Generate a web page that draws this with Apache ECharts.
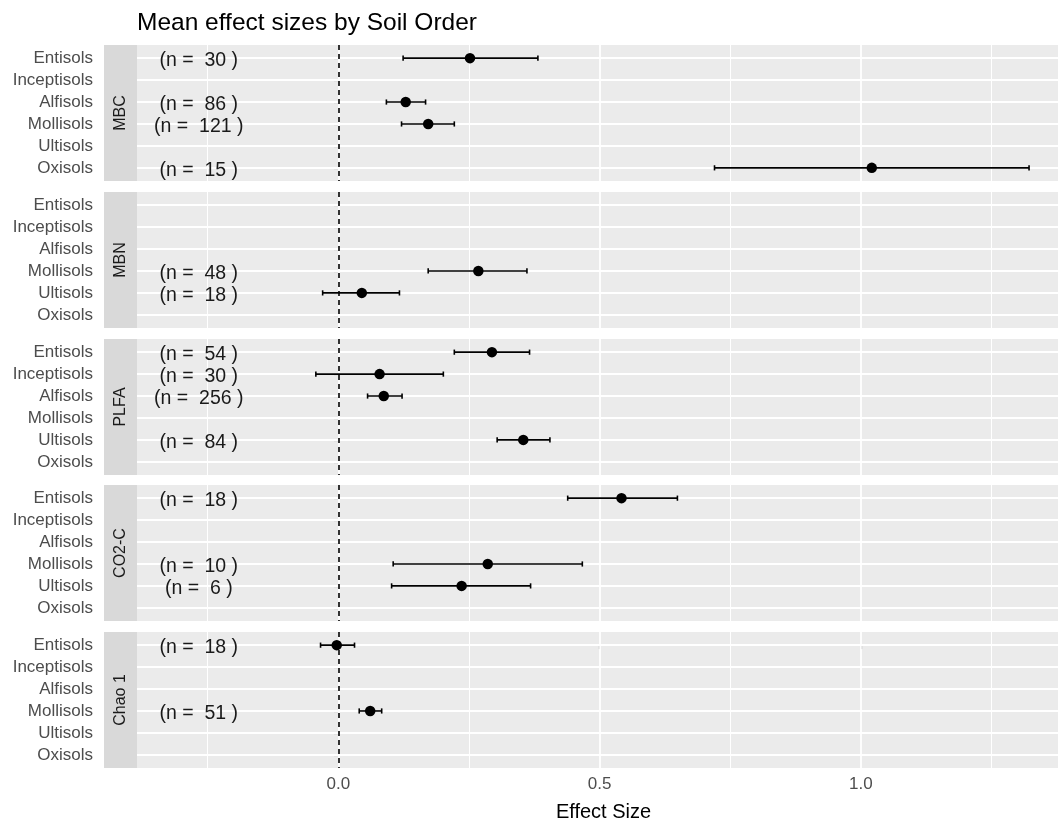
<!DOCTYPE html>
<html><head><meta charset="utf-8">
<script src="https://cdn.jsdelivr.net/npm/echarts@6/dist/echarts.min.js"></script>
<style>html,body{margin:0;padding:0;background:#fff}#chart{width:1059px;height:825px}</style>
</head><body><div id="chart"></div>
<script>
// ---------- data ----------
const soilOrders = ['Entisols', 'Inceptisols', 'Alfisols', 'Mollisols', 'Ultisols', 'Oxisols'];
const panelNames = ['MBC', 'MBN', 'PLFA', 'CO2-C', 'Chao 1'];
const xTicks = [0, 0.5, 1.0];
const xTickLabels = ['0.0', '0.5', '1.0'];
const xMinorGrid = [-0.25, 0.25, 0.75, 1.25];
const refLineX = 0;
const nLabelX = -0.267;

const mbcMean = [0.252, null, 0.129, 0.172, null, 1.021];
const mbcLow  = [0.124, null, 0.092, 0.121, null, 0.720];
const mbcHigh = [0.382, null, 0.167, 0.222, null, 1.322];
const mbcN    = [30, null, 86, 121, null, 15];

const mbnMean = [null, null, null, 0.268, 0.045, null];
const mbnLow  = [null, null, null, 0.172, -0.030, null];
const mbnHigh = [null, null, null, 0.361, 0.117, null];
const mbnN    = [null, null, null, 48, 18, null];

const plfaMean = [0.294, 0.079, 0.087, null, 0.354, null];
const plfaLow  = [0.222, -0.043, 0.056, null, 0.304, null];
const plfaHigh = [0.366, 0.201, 0.122, null, 0.405, null];
const plfaN    = [54, 30, 256, null, 84, null];

const co2Mean = [0.542, null, null, 0.286, 0.236, null];
const co2Low  = [0.439, null, null, 0.105, 0.102, null];
const co2High = [0.649, null, null, 0.467, 0.368, null];
const co2N    = [18, null, null, 10, 6, null];

const chaoMean = [-0.003, null, null, 0.061, null, null];
const chaoLow  = [-0.034, null, null, 0.040, null, null];
const chaoHigh = [0.031, null, null, 0.083, null, null];
const chaoN    = [18, null, null, 51, null, null];

// ---------- layout ----------
const FONT = 'Liberation Sans, Arial, Helvetica, sans-serif';
const GRID_LEFT = 137, GRID_RIGHT = 1, TOP0 = 45, STEP = 146.75, PANEL_H = 136, STRIP_W = 33;
const X_MIN = -0.3853, X_MAX = 1.3774;
const Y_MIN = -0.6, Y_MAX = 5.6;
const CAP = 2.6;

const panelData = [
  [mbcMean, mbcLow, mbcHigh, mbcN],
  [mbnMean, mbnLow, mbnHigh, mbnN],
  [plfaMean, plfaLow, plfaHigh, plfaN],
  [co2Mean, co2Low, co2High, co2N],
  [chaoMean, chaoLow, chaoHigh, chaoN]
];
const catIdx = soilOrders.map((_, i) => i);

const grids = [], xAxes = [], yAxes = [], series = [], graphics = [];
panelNames.forEach((name, p) => {
  const top = Math.round(TOP0 + p * STEP);
  const last = p === panelNames.length - 1;
  grids.push({left: GRID_LEFT, right: GRID_RIGHT, top: top, height: PANEL_H,
    show: true, backgroundColor: '#EBEBEB', borderWidth: 0, containLabel: false});
  xAxes.push({
    gridIndex: p, type: 'value', min: X_MIN, max: X_MAX,
    splitLine: {show: false}, axisLine: {show: false},
    axisTick: last ? {show: true, customValues: xTicks, length: 4, lineStyle: {color: '#333333', width: 1.1}} : {show: false},
    axisLabel: last ? {show: true, customValues: xTicks, margin: 8, fontSize: 17, color: '#4D4D4D', fontFamily: FONT,
      formatter: v => { const k = xTicks.findIndex(t => Math.abs(t - v) < 1e-9); return k >= 0 ? xTickLabels[k] : ''; }} : {show: false},
    name: last ? 'Effect Size' : '', nameLocation: 'middle', nameGap: 34,
    nameTextStyle: {fontSize: 20, color: '#000000', fontFamily: FONT, padding: [0, 0, 0, 12]}
  });
  yAxes.push({
    gridIndex: p, type: 'value', inverse: true, min: Y_MIN, max: Y_MAX, offset: 34,
    axisLine: {show: false}, splitLine: {show: false},
    axisTick: {show: true, customValues: catIdx, length: 4.5, lineStyle: {color: '#333333', width: 1.1}},
    axisLabel: {show: true, customValues: catIdx, margin: 10, fontSize: 17, color: '#4D4D4D', fontFamily: FONT,
      formatter: v => soilOrders[Math.round(v)]}
  });

  // gridlines
  const gl = [];
  xTicks.forEach(v => gl.push({xAxis: v, lineStyle: {width: 1.8}}));
  xMinorGrid.forEach(v => gl.push({xAxis: v, lineStyle: {width: 1.1}}));
  catIdx.forEach(v => gl.push({yAxis: v, lineStyle: {width: 1.8}}));
  series.push({type: 'line', xAxisIndex: p, yAxisIndex: p, data: [], z: 1, silent: true,
    markLine: {z: 1, silent: true, symbol: ['none', 'none'], animation: false, label: {show: false},
      lineStyle: {color: '#FFFFFF', type: 'solid'}, emphasis: {disabled: true}, data: gl}});
  // reference dashed line
  series.push({type: 'line', xAxisIndex: p, yAxisIndex: p, data: [], z: 2, silent: true,
    markLine: {z: 2, silent: true, symbol: ['none', 'none'], animation: false, label: {show: false},
      lineStyle: {color: '#000000', type: [5, 4], width: 1.6}, emphasis: {disabled: true},
      data: [{xAxis: refLineX}]}});

  const [mean, low, high, n] = panelData[p];
  const ebData = [], ptData = [], txtData = [];
  catIdx.forEach(i => {
    if (mean[i] !== null) {
      ebData.push([low[i], high[i], i]);
      ptData.push([mean[i], i]);
    }
    if (n[i] !== null) txtData.push([nLabelX, i, n[i]]);
  });
  series.push({type: 'custom', xAxisIndex: p, yAxisIndex: p, z: 3, silent: true, animation: false,
    encode: {x: [0, 1], y: 2}, data: ebData,
    renderItem: (params, api) => {
      const y = api.value(2);
      const a = api.coord([api.value(0), y]);
      const b = api.coord([api.value(1), y]);
      const st = {stroke: '#000000', lineWidth: 1.6};
      return {type: 'group', children: [
        {type: 'line', shape: {x1: a[0], y1: a[1], x2: b[0], y2: b[1]}, style: st},
        {type: 'line', shape: {x1: a[0], y1: a[1] - CAP, x2: a[0], y2: a[1] + CAP}, style: st},
        {type: 'line', shape: {x1: b[0], y1: b[1] - CAP, x2: b[0], y2: b[1] + CAP}, style: st}
      ]};
    }});
  series.push({type: 'scatter', xAxisIndex: p, yAxisIndex: p, z: 4, silent: true, animation: false,
    symbol: 'circle', symbolSize: 10.5, itemStyle: {color: '#000000', opacity: 1}, data: ptData});
  series.push({type: 'custom', xAxisIndex: p, yAxisIndex: p, z: 4, silent: true, animation: false,
    encode: {x: 0, y: 1}, data: txtData,
    renderItem: (params, api) => {
      const c = api.coord([api.value(0), api.value(1)]);
      return {type: 'text', x: c[0], y: c[1] + 2.5, style: {
        text: '(n =  ' + api.value(2) + ' )', align: 'center', verticalAlign: 'middle',
        fontSize: 19.5, fontFamily: FONT, fill: '#1A1A1A'}};
    }});

  // facet strip
  graphics.push({type: 'rect', x: GRID_LEFT - STRIP_W, y: top, silent: true,
    shape: {x: 0, y: 0, width: STRIP_W, height: PANEL_H}, style: {fill: '#D9D9D9'}});
  graphics.push({type: 'text', x: GRID_LEFT - STRIP_W / 2 + 0.5, y: top + PANEL_H / 2, rotation: Math.PI / 2, silent: true,
    style: {text: name, align: 'center', verticalAlign: 'middle', fontSize: 16, fontFamily: FONT, fill: '#1A1A1A'}});
});

const chart = echarts.init(document.getElementById('chart'), null, {renderer: 'canvas'});
chart.setOption({
  animation: false,
  backgroundColor: '#FFFFFF',
  textStyle: {fontFamily: FONT},
  title: {text: 'Mean effect sizes by Soil Order', left: 137, top: 11, padding: 0,
    textStyle: {fontSize: 24.5, fontWeight: 'normal', color: '#000000', fontFamily: FONT}},
  grid: grids, xAxis: xAxes, yAxis: yAxes, series: series, graphic: graphics
});
</script></body></html>
